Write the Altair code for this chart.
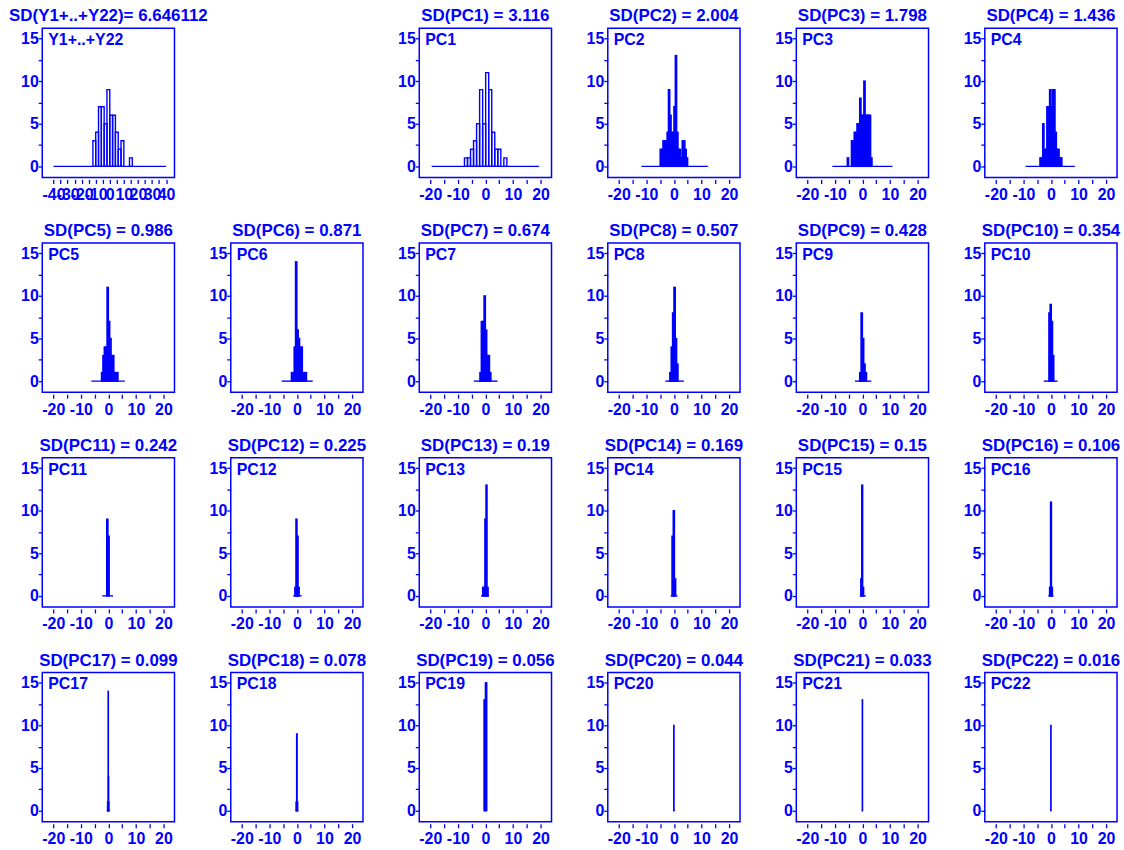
import altair as alt
import pandas as pd

BLUE = "#0000ff"
FONT = "Liberation Sans"

panel_names = ["Y1+..+Y22"] + [f"PC{i}" for i in range(1, 23)]
sd_text = ["6.646112", "3.116", "2.004", "1.798", "1.436", "0.986", "0.871", "0.674",
           "0.507", "0.428", "0.354", "0.242", "0.225", "0.19", "0.169", "0.15",
           "0.106", "0.099", "0.078", "0.056", "0.044", "0.033", "0.016"]

# histogram bins: first bin start and bin width for each panel
bin_start = [-12, -7.6, -5, -6, -4, -2.5, -2, -2, -1.5, -1, -0.75, -0.6, -0.75, -1.0,
             -0.7, -0.6, -0.5, -0.3, -0.3, -0.5, -0.05, -0.05, -0.05]
bin_width = [2, 1.1, 0.5, 0.5, 0.5, 0.5, 0.5, 0.5, 0.5, 0.5, 0.45, 0.45, 0.4, 0.4,
             0.45, 0.35, 0.35, 0.1, 0.2, 0.5, 0.1, 0.1, 0.1]

counts_total = [3, 4, 7, 7, 5, 9, 6, 6, 4, 2, 3, 0, 0, 1]
counts_pc1 = [1, 1, 2, 3, 5, 9, 5, 11, 9, 4, 2, 2, 0, 1]
counts_pc2 = [2, 2, 3, 3, 3, 4, 9, 6, 4, 4, 7, 13, 4, 2, 2, 1, 3, 3, 2, 1]
counts_pc3 = [0, 1, 0, 0, 3, 3, 4, 4, 5, 5, 8, 6, 6, 10, 6, 6, 6, 6, 1]
counts_pc4 = [1, 1, 5, 2, 2, 7, 7, 9, 7, 9, 9, 4, 2, 2, 1, 1]
counts_pc5 = [1, 3, 4, 4, 11, 7, 5, 3, 3, 1, 1, 1]
counts_pc6 = [1, 1, 4, 14, 6, 5, 4, 4, 1, 1, 1]
counts_pc7 = [1, 7, 7, 10, 6, 3, 3, 1]
counts_pc8 = [1, 4, 8, 11, 5, 2]
counts_pc9 = [1, 8, 5, 2, 1]
counts_pc10 = [8, 9, 7, 3]
counts_pc11 = [9, 7]
counts_pc12 = [1, 9, 7, 1]
counts_pc13 = [1, 1, 9, 13, 1]
counts_pc14 = [7, 10, 2]
counts_pc15 = [2, 13, 1]
counts_pc16 = [1, 11, 1]
counts_pc17 = [1, 1, 14, 4, 1]
counts_pc18 = [1, 9, 1]
counts_pc19 = [13, 15]
counts_pc20 = [10]
counts_pc21 = [13]
counts_pc22 = [10]

all_counts = [counts_total, counts_pc1, counts_pc2, counts_pc3, counts_pc4, counts_pc5,
              counts_pc6, counts_pc7, counts_pc8, counts_pc9, counts_pc10, counts_pc11,
              counts_pc12, counts_pc13, counts_pc14, counts_pc15, counts_pc16,
              counts_pc17, counts_pc18, counts_pc19, counts_pc20, counts_pc21, counts_pc22]

# horizontal baseline extent of each panel
line_lo = [-40, -19.5, -11.8, -10.9, -9.2, -6.2, -5.5, -4.2, -3.1, -2.7, -2.6, -2.2, -1.3,
           -1.6, -1.2, -0.95, -0.95, -0.6, -0.5, -0.35, -0.3, -0.2, -0.1]
line_hi = [40, 19.5, 12.3, 10.9, 8.7, 6.0, 5.75, 4.4, 3.6, 3.2, 2.4, 1.7, 1.7,
           1.3, 1.3, 1.2, 0.95, 0.6, 0.5, 0.35, 0.3, 0.2, 0.1]

x_ticks_total = list(range(-40, 41, 5))
x_ticks_pc = list(range(-20, 21, 5))
y_ticks = [0, 2.5, 5, 7.5, 10, 12.5, 15]

PW, PH = 133, 150


def make_panel(i):
    s, w, c = bin_start[i], bin_width[i], all_counts[i]
    bars = pd.DataFrame({
        "x0": [s + k * w for k in range(len(c))],
        "x1": [s + (k + 1) * w for k in range(len(c))],
        "n": c,
        "zero": [0] * len(c),
    })
    bars = bars[bars["n"] > 0]
    base = pd.DataFrame({"lo": [line_lo[i]], "hi": [line_hi[i]], "zero": [0]})
    lab = pd.DataFrame({"name": [panel_names[i]]})

    dom = [-48, 46] if i == 0 else [-24, 24]
    ticks = x_ticks_total if i == 0 else x_ticks_pc
    xscale = alt.Scale(domain=dom, nice=False, zero=False)
    yscale = alt.Scale(domain=[-1.3, 16.2], nice=False, zero=False)
    common = dict(domain=False, grid=False, tickColor=BLUE, tickWidth=1.3, tickSize=4,
                  labelColor=BLUE, labelFont=FONT, labelFontSize=16,
                  labelFontWeight="bold", title=None, labelOverlap=False,
                  labelFlush=False, labelBound=False)
    xaxis = alt.Axis(values=ticks, offset=2, labelPadding=3,
                     labelExpr="datum.value % 10 == 0 ? '' + datum.value : ''", **common)
    yaxis = alt.Axis(values=y_ticks, labelPadding=0,
                     labelExpr="datum.value % 5 == 0 ? '' + datum.value : ''", **common)

    bar_layer = alt.Chart(bars).mark_rect(filled=False, color=BLUE, strokeWidth=1.4).encode(
        x=alt.X("x0:Q", scale=xscale, axis=xaxis),
        x2="x1:Q",
        y=alt.Y("n:Q", scale=yscale, axis=yaxis),
        y2="zero:Q",
    )
    rule_layer = alt.Chart(base).mark_rule(color=BLUE, strokeWidth=1.4).encode(
        x=alt.X("lo:Q", scale=xscale, axis=xaxis),
        x2="hi:Q",
        y=alt.Y("zero:Q", scale=yscale, axis=yaxis),
    )
    text_layer = alt.Chart(lab).mark_text(
        align="left", baseline="top", color=BLUE, font=FONT, fontSize=16, fontWeight="bold"
    ).encode(x=alt.value(6), y=alt.value(4), text="name:N")

    if i == 0:
        ttl = f"SD({panel_names[i]})= {sd_text[i]}"
    else:
        ttl = f"SD({panel_names[i]}) = {sd_text[i]}"
    return alt.layer(bar_layer, rule_layer, text_layer).properties(
        width=PW, height=PH,
        title=alt.TitleParams(ttl, font=FONT, fontSize=17, fontWeight="bold", color=BLUE,
                              anchor="middle", frame="group", offset=3),
    )


blank = alt.Chart(pd.DataFrame({"v": [0]})).mark_point(opacity=0).encode(
    x=alt.X("v:Q", axis=None), y=alt.Y("v:Q", axis=None)
).properties(width=PW, height=PH, view=alt.ViewBackground(strokeOpacity=0))

panels = [make_panel(0), blank] + [make_panel(i) for i in range(1, 23)]

chart = alt.concat(*panels, columns=6, spacing={"row": 66, "column": 56.6}, bounds="flush").properties(
    padding={"left": 7.5, "top": 4, "right": 3, "bottom": 2},
    background="white",
).configure_view(stroke=BLUE, strokeWidth=1.5)

chart.save("out.html", embed_options={"renderer": "svg", "actions": False})
